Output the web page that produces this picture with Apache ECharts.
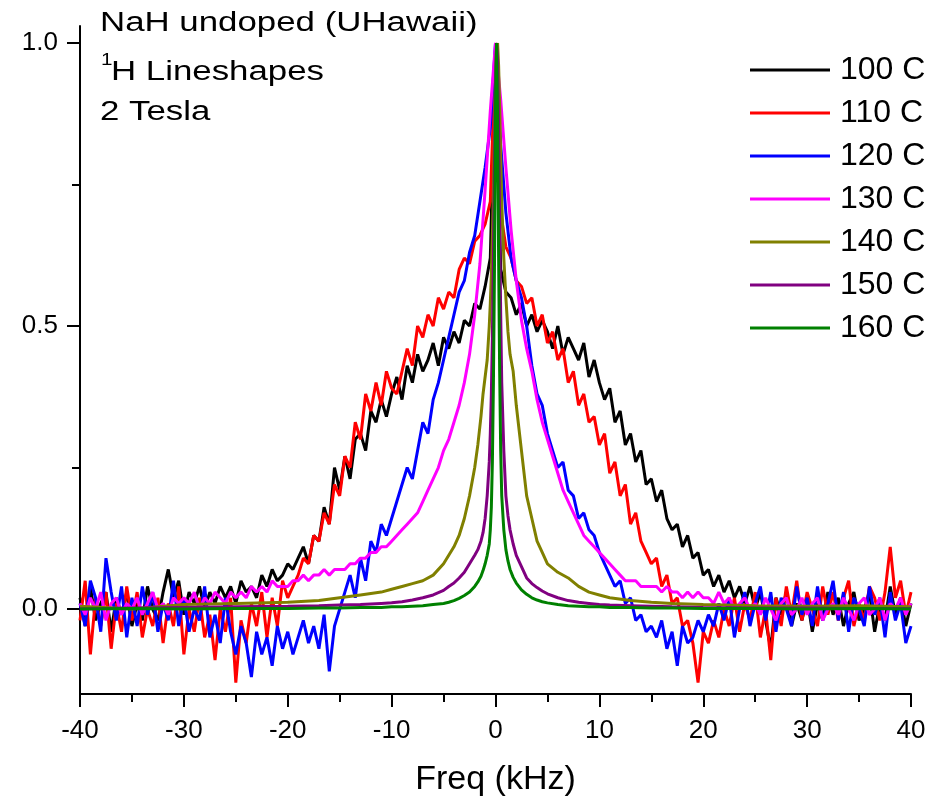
<!DOCTYPE html>
<html>
<head>
<meta charset="utf-8">
<script src="https://cdn.jsdelivr.net/npm/echarts@6/dist/echarts.min.js"></script>
<style>
html,body{margin:0;padding:0;background:#fff;}
#chart{width:935px;height:803px;}
</style>
</head>
<body>
<div id="chart"></div>
<script>
// ---- Data ----
// Noisy spectra sampled every 0.5 kHz from -40 to 40 kHz (161 samples)
const freqStart = -40;
const freqStep = 0.5;

const black100 = [
  0.02,-0.03,0.04,-0.02,0.01,0.03,-0.04,0.02,-0.01,0.03,
  -0.03,0.01,-0.02,0.04,0.00,-0.02,0.03,0.07,0.02,0.05,
  -0.01,0.03,0.01,0.04,0.00,0.03,0.01,0.04,0.02,0.04,
  0.01,0.05,0.03,0.04,0.02,0.06,0.04,0.07,0.05,0.06,
  0.08,0.07,0.09,0.11,0.08,0.13,0.12,0.18,0.15,0.25,
  0.21,0.27,0.23,0.30,0.31,0.28,0.35,0.33,0.37,0.34,
  0.38,0.41,0.37,0.43,0.40,0.45,0.42,0.44,0.47,0.43,
  0.48,0.46,0.49,0.47,0.51,0.50,0.54,0.53,0.57,0.62,
  0.98,0.60,0.56,0.55,0.52,0.54,0.50,0.52,0.49,0.51,
  0.49,0.46,0.50,0.45,0.48,0.46,0.44,0.47,0.41,0.44,
  0.40,0.37,0.39,0.33,0.35,0.29,0.31,0.26,0.28,0.22,
  0.23,0.19,0.21,0.16,0.14,0.15,0.11,0.13,0.09,0.10,
  0.06,0.07,0.04,0.06,0.03,0.05,0.02,0.04,0.01,0.04,
  0.00,0.03,-0.02,-0.07,0.02,-0.01,0.03,-0.03,0.01,-0.02,
  0.02,-0.04,0.01,-0.02,0.03,-0.01,0.02,-0.03,0.01,0.03,
  -0.02,0.00,0.03,-0.04,0.01,-0.02,0.04,-0.01,0.02,-0.03,
  0.01
];

const red110 = [
  -0.02,0.05,-0.08,0.02,-0.03,0.03,-0.07,0.01,-0.04,0.04,
  -0.02,0.03,-0.05,0.00,-0.03,0.02,-0.06,0.01,-0.03,0.04,
  -0.08,0.00,-0.04,0.02,-0.05,-0.01,-0.09,0.00,-0.04,0.02,
  -0.13,-0.02,-0.06,0.01,-0.03,0.03,-0.05,0.02,-0.03,0.05,
  0.02,0.04,0.06,0.09,0.08,0.13,0.12,0.17,0.15,0.22,
  0.20,0.27,0.25,0.33,0.30,0.38,0.35,0.40,0.36,0.42,
  0.39,0.38,0.42,0.46,0.43,0.50,0.48,0.52,0.50,0.55,
  0.53,0.56,0.55,0.60,0.62,0.61,0.65,0.66,0.68,0.72,
  0.99,0.70,0.64,0.62,0.58,0.57,0.54,0.55,0.50,0.52,
  0.47,0.49,0.44,0.46,0.40,0.42,0.36,0.38,0.33,0.34,
  0.29,0.31,0.24,0.26,0.20,0.22,0.15,0.17,0.12,0.10,
  0.08,0.09,0.04,0.06,0.01,0.02,-0.03,-0.02,-0.06,-0.13,
  -0.04,-0.06,-0.02,-0.05,0.00,-0.03,0.02,-0.04,0.01,-0.02,
  0.03,-0.05,0.00,-0.09,0.02,-0.03,0.04,-0.01,0.05,-0.02,
  0.03,0.00,-0.03,0.04,-0.01,0.03,-0.02,0.02,0.05,-0.03,
  0.01,-0.02,0.04,0.02,-0.02,0.03,0.11,0.02,0.05,-0.01,
  0.03
];

const blue120 = [
  0.01,-0.03,0.05,0.02,-0.04,0.09,0.03,-0.02,0.04,-0.05,
  0.02,-0.03,0.04,-0.01,0.03,-0.04,0.01,-0.02,0.05,-0.03,
  0.02,-0.04,0.00,-0.02,0.04,-0.05,-0.01,-0.06,0.02,-0.04,
  -0.08,-0.03,-0.06,-0.12,-0.04,-0.08,-0.05,-0.10,-0.03,-0.07,
  -0.04,-0.08,-0.05,-0.02,-0.06,-0.03,-0.07,-0.01,-0.11,-0.03,
  0.00,0.03,0.06,0.02,0.09,0.05,0.12,0.10,0.15,0.13,
  0.16,0.19,0.22,0.25,0.23,0.28,0.33,0.31,0.37,0.40,
  0.44,0.48,0.52,0.56,0.58,0.63,0.66,0.72,0.78,0.85,
  1.00,0.82,0.70,0.62,0.58,0.55,0.50,0.43,0.38,0.36,
  0.31,0.28,0.25,0.26,0.21,0.20,0.16,0.17,0.14,0.13,
  0.10,0.08,0.06,0.04,0.05,0.01,0.02,-0.02,-0.01,-0.04,
  -0.03,-0.05,-0.02,-0.07,-0.04,-0.10,-0.03,-0.06,-0.05,-0.02,
  -0.04,-0.01,-0.03,0.01,-0.02,0.02,-0.05,0.00,0.03,-0.03,
  0.01,0.04,-0.02,0.03,-0.04,0.02,0.00,-0.03,0.04,-0.01,
  0.02,-0.03,0.04,-0.02,0.01,0.05,-0.02,0.03,-0.04,0.02,
  0.00,-0.03,0.04,-0.01,0.02,-0.05,0.03,-0.02,0.01,-0.06,
  -0.03
];

const magenta130 = [
  0.01,-0.01,0.02,0.00,0.03,-0.02,0.01,0.02,-0.01,0.01,
  0.00,0.02,-0.01,0.01,0.03,0.00,0.01,-0.01,0.02,0.01,
  0.02,0.01,0.03,0.00,0.02,0.01,0.03,0.02,0.01,0.03,
  0.02,0.03,0.02,0.04,0.03,0.04,0.03,0.05,0.04,0.04,
  0.04,0.05,0.05,0.06,0.05,0.06,0.06,0.07,0.06,0.07,
  0.07,0.07,0.08,0.08,0.09,0.09,0.10,0.10,0.11,0.11,
  0.12,0.13,0.14,0.15,0.16,0.17,0.19,0.21,0.23,0.25,
  0.28,0.30,0.33,0.36,0.40,0.45,0.52,0.61,0.74,0.88,
  1.00,0.90,0.78,0.67,0.58,0.51,0.46,0.42,0.37,0.33,
  0.30,0.27,0.24,0.21,0.19,0.17,0.15,0.13,0.12,0.11,
  0.10,0.09,0.08,0.07,0.06,0.05,0.05,0.05,0.04,0.04,
  0.04,0.04,0.03,0.04,0.03,0.03,0.02,0.03,0.02,0.03,
  0.02,0.02,0.01,0.03,0.01,0.02,0.00,0.01,0.02,0.00,
  0.01,-0.01,0.02,0.00,-0.02,0.01,0.02,-0.01,0.00,0.02,
  -0.01,0.01,0.02,-0.02,0.00,0.01,-0.01,0.02,0.00,-0.02,
  0.01,0.02,-0.01,0.00,0.02,-0.02,0.01,0.00,0.02,-0.01,
  0.01
];

// Narrow spectra sampled on a grid that is denser near the centre
const freqSharp = [
  -40,-35,-30,-25,-20,-17,-15,-13,-11,-10,
  -9,-8,-7,-6,-5,-4.5,-4,-3.5,-3,-2.5,
  -2,-1.7,-1.4,-1.2,-1,-0.8,-0.6,-0.5,-0.4,-0.3,
  -0.2,-0.1,0,0.1,0.2,0.3,0.4,0.5,0.6,0.8,
  1,1.2,1.4,1.7,2,2.5,3,3.5,4,4.5,
  5,6,7,8,9,10,11,13,15,17,
  20,25,30,35,40
];

const olive140 = [
  0.005,0.000,0.008,0.010,0.012,0.015,0.020,0.025,0.030,0.035,
  0.040,0.045,0.050,0.060,0.080,0.095,0.110,0.130,0.160,0.200,
  0.250,0.290,0.340,0.380,0.410,0.440,0.500,0.540,0.590,0.660,
  0.740,0.840,0.940,0.990,1.000,0.960,0.890,0.800,0.720,0.620,
  0.550,0.490,0.450,0.420,0.360,0.280,0.200,0.160,0.120,0.100,
  0.080,0.065,0.055,0.040,0.030,0.025,0.020,0.015,0.012,0.010,
  0.008,0.006,0.005,0.006,0.004
];

const purple150 = [
  0.000,0.002,0.003,0.004,0.005,0.006,0.007,0.008,0.010,0.011,
  0.013,0.016,0.020,0.025,0.033,0.040,0.046,0.055,0.065,0.080,
  0.095,0.105,0.120,0.135,0.160,0.200,0.260,0.310,0.380,0.480,
  0.620,0.780,0.930,1.000,0.970,0.850,0.680,0.520,0.400,0.280,
  0.200,0.165,0.140,0.115,0.095,0.075,0.055,0.045,0.038,0.032,
  0.027,0.020,0.015,0.012,0.010,0.008,0.007,0.006,0.005,0.004,
  0.003,0.002,0.002,0.001,0.001
];

const green160 = [
  0.000,0.001,0.000,0.001,0.001,0.002,0.002,0.003,0.003,0.004,
  0.004,0.005,0.006,0.008,0.010,0.012,0.015,0.019,0.024,0.030,
  0.040,0.048,0.058,0.068,0.080,0.095,0.115,0.140,0.180,0.260,
  0.400,0.600,0.880,1.000,0.870,0.620,0.420,0.280,0.200,0.140,
  0.105,0.085,0.070,0.056,0.046,0.034,0.026,0.020,0.016,0.013,
  0.011,0.008,0.006,0.005,0.004,0.004,0.003,0.003,0.002,0.002,
  0.001,0.001,0.000,0.001,0.000
];

const seriesNames = ['100 C','110 C','120 C','130 C','140 C','150 C','160 C'];
const seriesColors = ['#000000','#ff0000','#0000ff','#ff00ff','#808000','#800080','#008000'];
const yTickValues = [0, 0.5, 1.0];
const yMinorTickValues = [0.25, 0.75];

// ---- Build series ----
function onFineGrid(vals){ return vals.map((v,i)=>[freqStart + i*freqStep, v]); }
function onSharpGrid(vals){ return vals.map((v,i)=>[freqSharp[i], v]); }

const seriesData = [
  onFineGrid(black100), onFineGrid(red110), onFineGrid(blue120), onFineGrid(magenta130),
  onSharpGrid(olive140), onSharpGrid(purple150), onSharpGrid(green160)
];

const FONT = 'Liberation Sans';
const chart = echarts.init(document.getElementById('chart'), null, {renderer:'canvas'});

const axisLineStyle = {color:'#000', width:2};
const TITLE_SX = 1.29;

const option = {
  animation: false,
  backgroundColor: '#ffffff',
  grid: {left: 80, right: 24, top: 26, bottom: 109, containLabel: false},
  xAxis: [{
    type: 'value', min: -40, max: 40, interval: 10,
    axisLine: {show: true, onZero: false, lineStyle: axisLineStyle},
    axisTick: {show: true, length: 13, lineStyle: axisLineStyle},
    minorTick: {show: true, splitNumber: 2, length: 8, lineStyle: axisLineStyle},
    splitLine: {show: false}, minorSplitLine: {show: false},
    axisLabel: {fontSize: 26, color: '#000', fontFamily: FONT, margin: 24},
    name: 'Freq (kHz)', nameLocation: 'middle', nameGap: 69,
    nameTextStyle: {fontSize: 34, color: '#000', fontFamily: FONT}
  }],
  yAxis: [{
    type: 'value', min: -0.15, max: 1.03,
    axisLine: {show: true, onZero: false, lineStyle: axisLineStyle},
    axisTick: {show: true, length: 13, lineStyle: axisLineStyle, customValues: yTickValues},
    axisLabel: {customValues: yTickValues, formatter: v => v.toFixed(1), fontSize: 26, color: '#000', fontFamily: FONT, margin: 22},
    splitLine: {show: false}
  },{
    type: 'value', min: -0.15, max: 1.03, position: 'left', offset: 0,
    axisLine: {show: false, onZero: false},
    axisTick: {show: true, length: 8, lineStyle: axisLineStyle, customValues: yMinorTickValues},
    axisLabel: {show: false},
    splitLine: {show: false}
  }],
  legend: {
    orient: 'vertical', left: 750, top: 54, padding: 0,
    itemWidth: 80, itemHeight: 3, itemGap: 11, icon: 'rect',
    data: seriesNames,
    textStyle: {fontSize: 32, lineHeight: 32, color: '#000', fontFamily: FONT, padding: [0,0,0,5]}
  },
  graphic: [
    {type:'text', x:100, y:24, scaleX:TITLE_SX, style:{text:'NaH undoped (UHawaii)', fontSize:27, fontFamily:FONT, fill:'#000', verticalAlign:'middle', align:'left'}},
    {type:'text', x:101, y:61, scaleX:TITLE_SX, style:{text:'1', fontSize:16, fontFamily:FONT, fill:'#000', verticalAlign:'middle', align:'left'}},
    {type:'text', x:111, y:73, scaleX:TITLE_SX, style:{text:'H Lineshapes', fontSize:27, fontFamily:FONT, fill:'#000', verticalAlign:'middle', align:'left'}},
    {type:'text', x:100, y:113, scaleX:TITLE_SX, style:{text:'2 Tesla', fontSize:27, fontFamily:FONT, fill:'#000', verticalAlign:'middle', align:'left'}}
  ],
  series: seriesNames.map((name, i) => ({
    type: 'line', name: name, data: seriesData[i],
    showSymbol: false, symbol: 'none', silent: true,
    lineStyle: {width: 3, color: seriesColors[i]},
    itemStyle: {color: seriesColors[i]},
    z: 2 + i
  }))
};
chart.setOption(option);
</script>
</body>
</html>
